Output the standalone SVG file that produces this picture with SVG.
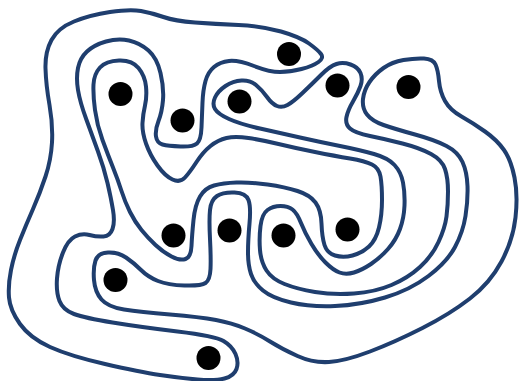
<svg xmlns="http://www.w3.org/2000/svg" width="520" height="381" viewBox="0 0 520 381">
<style>
.c{fill:none;stroke:#1f3e6e;stroke-width:4;stroke-linejoin:round}
.d{fill:#000}
</style>
<rect width="520" height="381" fill="#fff"/>
<g id="curves">
<path id="curve1" class="c" d="M45.5,68.5 Q45,52 51.5,40 Q58,28 74,21.5 Q90,15 110,12 Q130,9 141,11 Q152,13 163.5,17 Q175,21 195,22.5 Q215,24 238.5,25 Q262,26 281,31.5 Q300,37 309,43.5 Q318,50 321,54 Q324,58 318.5,62 Q313,66 301.5,69 Q290,72 280,72 Q270,72 254,66 Q238,60 229,61 Q220,62 214,67 Q208,72 205.5,81 Q203,90 202.5,102.5 Q202,115 201.5,127.5 Q201,140 197,143.5 Q193,147 180.5,146.5 Q168,146 162.5,144.5 Q157,143 156,136.5 Q155,130 158.5,121 Q162,112 163,100 Q164,88 160.5,73 Q157,58 148.5,50.5 Q140,43 129,40.5 Q118,38 106,41.5 Q94,45 87,51.5 Q80,58 78,68 Q76,78 78,90 Q80,102 86,118.5 Q92,135 98,151.5 Q104,168 107.5,183 Q111,198 113,210 Q115,222 112.5,229 Q110,236 103.5,236.5 Q97,237 89.5,235 Q82,233 75,236.5 Q68,240 63,252.5 Q58,265 57,278.5 Q56,292 59.5,301 Q63,310 74,314 Q85,318 112.5,322.5 Q140,327 177.5,331.5 Q215,336 223.5,341 Q232,346 235.5,354 Q239,362 236.5,369 Q234,376 224.5,378.5 Q215,381 197.5,379.5 Q180,378 160,375 Q140,372 105,364 Q70,356 50,347 Q30,338 20,324 Q10,310 9,297.5 Q8,285 11,270 Q14,255 20,240 Q26,225 33,209 Q40,193 45.5,176.5 Q51,160 52,142.5 Q53,125 49.5,105 Q46,85 45.5,68.5 Z"/>
<path id="curve2" class="c" d="M138.5,68 Q132,60 119,60.5 Q106,61 100,67.5 Q94,74 93.5,84.5 Q93,95 95,110 Q97,125 102.5,140 Q108,155 113,167.5 Q118,180 121.5,191 Q125,202 130,212 Q135,222 141.5,230 Q148,238 155.5,245 Q163,252 171.5,256.5 Q180,261 185.5,259 Q191,257 191.5,246 Q192,235 193.5,220 Q195,205 200,196.5 Q205,188 214,185.5 Q223,183 236.5,182.5 Q250,182 267.5,184.5 Q285,187 297.5,191 Q310,195 315.5,202.5 Q321,210 321.5,223.5 Q322,237 324.5,245 Q327,253 335,255.5 Q343,258 352.5,255.5 Q362,253 369,246.5 Q376,240 379,227.5 Q382,215 382,200 Q382,185 380.5,176.5 Q379,168 372,164.5 Q365,161 350,158.5 Q335,156 315,152 Q295,148 278.5,144 Q262,140 248.5,138 Q235,136 226.5,138 Q218,140 210.5,146 Q203,152 196.5,162 Q190,172 185,177.5 Q180,183 172.5,179.5 Q165,176 157.5,165.5 Q150,155 146,143.5 Q142,132 142.5,123 Q143,114 145,105.5 Q147,97 146,86.5 Q145,76 138.5,68 Z"/>
<path id="curve3" class="c" d="M95.5,260.5 Q98,253 108,252.5 Q118,252 126,257.5 Q134,263 141,270 Q148,277 158,281 Q168,285 184.5,285.5 Q201,286 205.5,283 Q210,280 210.5,269 Q211,258 210,239 Q209,220 210,210 Q211,200 217,196 Q223,192 234.5,192.5 Q246,193 248.5,200 Q251,207 249.5,223.5 Q248,240 248,252.5 Q248,265 251,274 Q254,283 263,290.5 Q272,298 291,302.5 Q310,307 335,306 Q360,305 385,297.5 Q410,290 428.5,276 Q447,262 455,247 Q463,232 465.5,216 Q468,200 467.5,186 Q467,172 462.5,162 Q458,152 446.5,146 Q435,140 415,134.5 Q395,129 383.5,125 Q372,121 367,114.5 Q362,108 363,99 Q364,90 369.5,82 Q375,74 383.5,68 Q392,62 403.5,60 Q415,58 424,58.5 Q433,59 435.5,64.5 Q438,70 439,81 Q440,92 445,101 Q450,110 461.5,116.5 Q473,123 485,131.5 Q497,140 504,150 Q511,160 514.5,177.5 Q518,195 515.5,217.5 Q513,240 501.5,261.5 Q490,283 470,298.5 Q450,314 422.5,328 Q395,342 370,351.5 Q345,361 329,362 Q313,363 297.5,356 Q282,349 270,341.5 Q258,334 245,328.5 Q232,323 216,320 Q200,317 170,314.5 Q140,312 124,309.5 Q108,307 101.5,299.5 Q95,292 94,280 Q93,268 95.5,260.5 Z"/>
<path id="curve4" class="c" d="M215,109 Q212,104 215,97.5 Q218,91 225.5,86 Q233,81 241.5,80.5 Q250,80 256,85 Q262,90 267,97 Q272,104 277,106 Q282,108 287.5,105 Q293,102 302.5,93 Q312,84 321,75 Q330,66 336.5,64 Q343,62 350.5,64.5 Q358,67 360.5,73 Q363,79 360.5,86 Q358,93 353,101.5 Q348,110 346.5,117 Q345,124 350,128.5 Q355,133 370,136 Q385,139 402.5,143.5 Q420,148 431,154 Q442,160 445,169 Q448,178 448,191.5 Q448,205 446.5,216.5 Q445,228 438.5,242 Q432,256 420,267 Q408,278 391.5,285 Q375,292 354,293.5 Q333,295 315,292 Q297,289 284.5,284 Q272,279 266.5,270.5 Q261,262 260,250 Q259,238 260.5,226 Q262,214 267.5,210 Q273,206 280.5,206 Q288,206 292.5,209.5 Q297,213 301,223 Q305,233 311.5,244 Q318,255 325.5,262.5 Q333,270 339.5,272.5 Q346,275 354,272.5 Q362,270 371,264 Q380,258 388,249 Q396,240 400,229 Q404,218 404.5,205.5 Q405,193 403,182.5 Q401,172 394.5,165 Q388,158 374,154 Q360,150 340,146 Q320,142 300,137.5 Q280,133 260,128.5 Q240,124 229,119 Q218,114 215,109 Z"/>
</g>
<g id="dots">
<circle id="dot1" class="d" cx="289" cy="54" r="12"/>
<circle id="dot2" class="d" cx="120.5" cy="94" r="12"/>
<circle id="dot3" class="d" cx="182.5" cy="120.5" r="12"/>
<circle id="dot4" class="d" cx="239.5" cy="101.5" r="12"/>
<circle id="dot5" class="d" cx="337.5" cy="85.5" r="12"/>
<circle id="dot6" class="d" cx="408.5" cy="87" r="12"/>
<circle id="dot7" class="d" cx="173.5" cy="235.5" r="12"/>
<circle id="dot8" class="d" cx="229.5" cy="230.5" r="12"/>
<circle id="dot9" class="d" cx="283.5" cy="235.5" r="12"/>
<circle id="dot10" class="d" cx="347.5" cy="229.5" r="12"/>
<circle id="dot11" class="d" cx="115.5" cy="280" r="12"/>
<circle id="dot12" class="d" cx="208.5" cy="358" r="12"/>
</g>
</svg>
